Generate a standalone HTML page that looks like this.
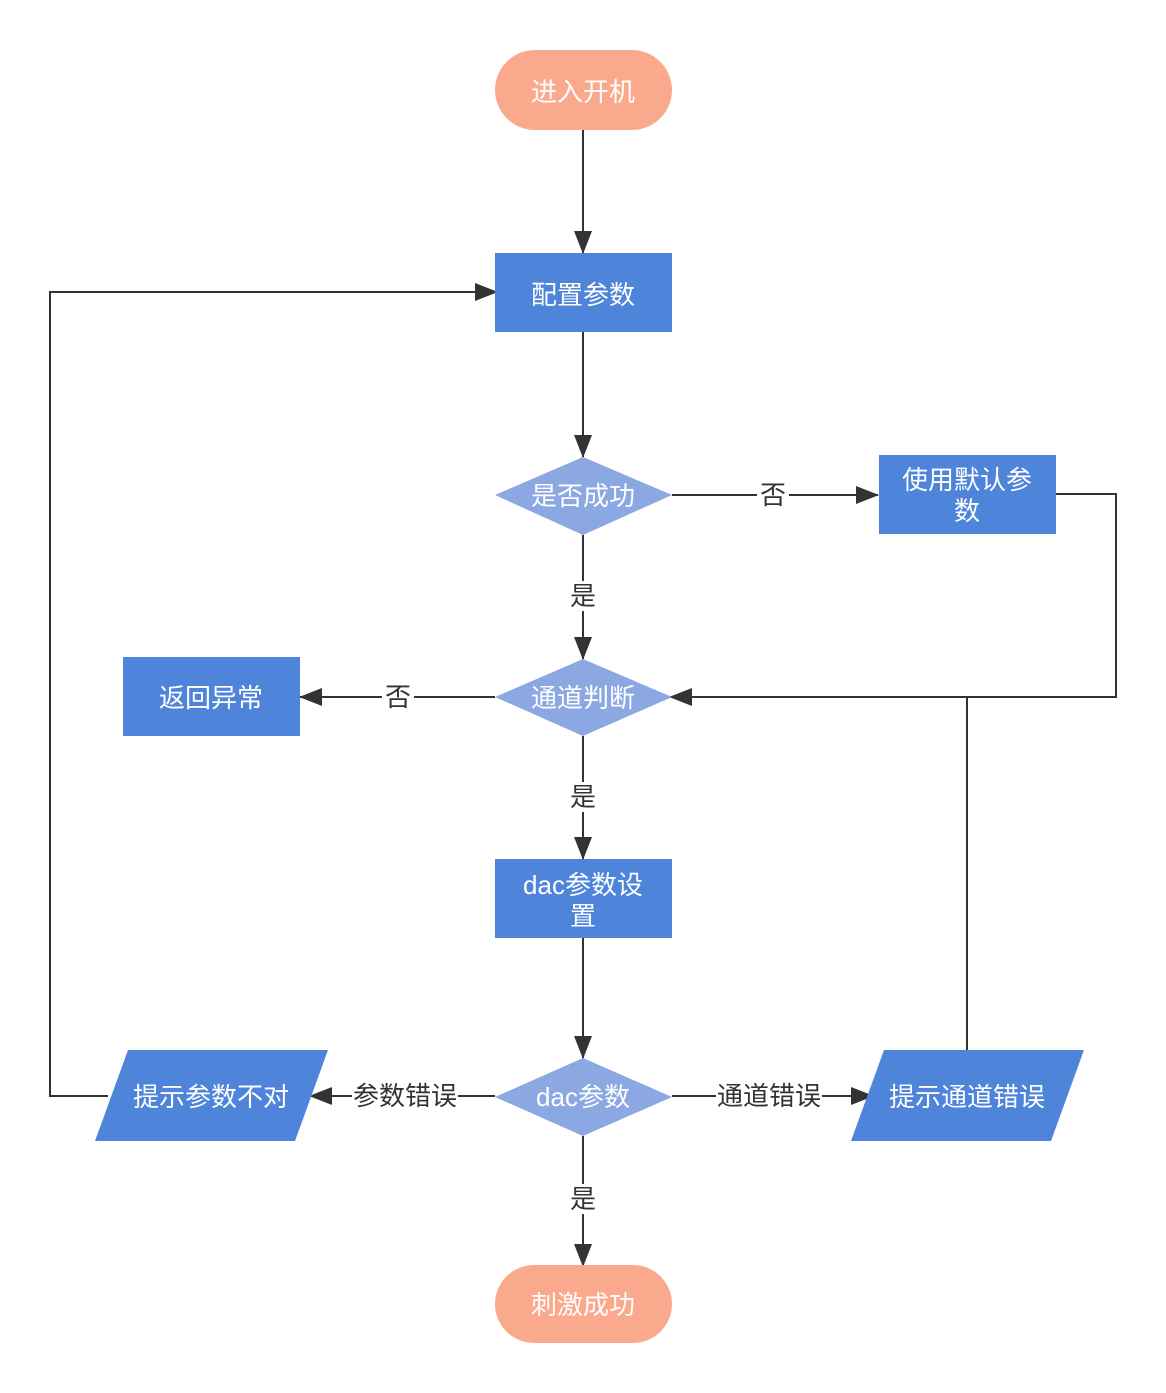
<!DOCTYPE html>
<html><head><meta charset="utf-8"><style>
html,body{margin:0;padding:0;background:#fff;}
svg{display:block;}
text{font-family:"Liberation Sans","Noto Sans CJK SC",sans-serif;font-size:26px;}
.w{fill:#fff;text-anchor:middle;dominant-baseline:central;}
.k{fill:#333;text-anchor:middle;dominant-baseline:central;}
</style></head><body>
<svg width="1166" height="1393" viewBox="0 0 1166 1393" xmlns="http://www.w3.org/2000/svg">
<defs>
<marker id="b" markerWidth="24" markerHeight="24" refX="22" refY="9" orient="auto" markerUnits="userSpaceOnUse"><path d="M0,0 L23,9 L0,18 Z" fill="#333"/></marker></defs>
<g stroke="#333" stroke-width="2" fill="none">
<line x1="583" y1="130" x2="583" y2="253" marker-end="url(#b)"/>
<line x1="583" y1="331" x2="583" y2="457" marker-end="url(#b)"/>
<line x1="672" y1="495" x2="878" y2="495" marker-end="url(#b)"/>
<polyline points="1056,494 1116,494 1116,697 670,697" marker-end="url(#b)"/>
<line x1="583" y1="535" x2="583" y2="659" marker-end="url(#b)"/>
<line x1="495" y1="697" x2="300" y2="697" marker-end="url(#b)"/>
<line x1="583" y1="736" x2="583" y2="859" marker-end="url(#b)"/>
<line x1="583" y1="938" x2="583" y2="1058" marker-end="url(#b)"/>
<line x1="495" y1="1096" x2="310" y2="1096" marker-end="url(#b)"/>
<line x1="672" y1="1096" x2="873" y2="1096" marker-end="url(#b)"/>
<line x1="967" y1="1050" x2="967" y2="697"/>
<polyline points="108,1096 50,1096 50,292 497,292" marker-end="url(#b)"/>
<line x1="583" y1="1136" x2="583" y2="1266" marker-end="url(#b)"/>
</g>
<g fill="#fff">
<rect x="757" y="480" width="32" height="30"/><rect x="567" y="581" width="32" height="30"/>
<rect x="382" y="682" width="32" height="30"/><rect x="567" y="782" width="32" height="30"/>
<rect x="352" y="1081" width="106" height="30"/><rect x="716" y="1081" width="106" height="30"/>
<rect x="567" y="1184" width="32" height="30"/>
</g>
<rect x="495" y="50" width="177" height="80" rx="40" fill="#FBA98D"/>
<rect x="495" y="253" width="177" height="79" fill="#4E84DA"/>
<polygon points="495,495 583,457 672,495 583,535" fill="#8BA8E3"/>
<rect x="879" y="455" width="177" height="79" fill="#4E84DA"/>
<polygon points="495,697 583,659 672,697 583,736" fill="#8BA8E3"/>
<rect x="123" y="657" width="177" height="79" fill="#4E84DA"/>
<rect x="495" y="859" width="177" height="79" fill="#4E84DA"/>
<polygon points="495,1097 583,1058 672,1097 583,1136" fill="#8BA8E3"/>
<polygon points="128,1050 328,1050 295,1141 95,1141" fill="#4E84DA"/>
<polygon points="884,1050 1084,1050 1051,1141 851,1141" fill="#4E84DA"/>
<rect x="495" y="1265" width="177" height="78" rx="39" fill="#FBA98D"/>
<text class="w" x="583" y="92">进入开机</text>
<text class="w" x="583" y="295">配置参数</text>
<text class="w" x="583" y="496">是否成功</text>
<text class="w" x="967" y="480">使用默认参</text>
<text class="w" x="967" y="511">数</text>
<text class="w" x="583" y="698">通道判断</text>
<text class="w" x="211" y="698">返回异常</text>
<text class="w" x="583" y="885">dac参数设</text>
<text class="w" x="583" y="916">置</text>
<text class="w" x="583" y="1097">dac参数</text>
<text class="w" x="211" y="1097">提示参数不对</text>
<text class="w" x="967" y="1097">提示通道错误</text>
<text class="w" x="583" y="1305">刺激成功</text>
<text class="k" x="773" y="495">否</text>
<text class="k" x="583" y="596">是</text>
<text class="k" x="398" y="697">否</text>
<text class="k" x="583" y="797">是</text>
<text class="k" x="405" y="1096">参数错误</text>
<text class="k" x="769" y="1096">通道错误</text>
<text class="k" x="583" y="1199">是</text>
</svg>
</body></html>
